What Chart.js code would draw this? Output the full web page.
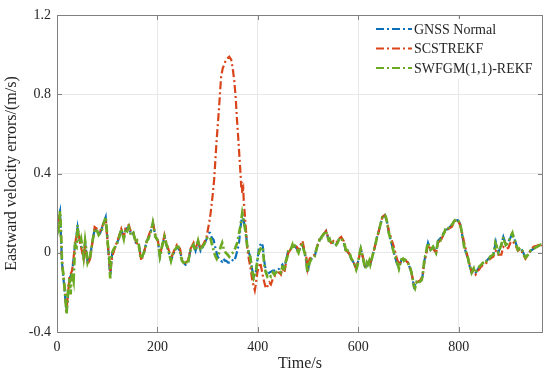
<!DOCTYPE html>
<html>
<head>
<meta charset="utf-8">
<script src="https://cdn.jsdelivr.net/npm/chart.js@4.4.0/dist/chart.umd.min.js"></script>
<style>
html,body{margin:0;padding:0;background:#fff;}
#wrap{width:550px;height:377px;position:relative;}
</style>
</head>
<body>
<div id="wrap"><canvas id="c" width="550" height="377"></canvas></div>
<script>
// ---- data (time in s, eastward velocity error in m/s) ----
const seriesNames = ['GNSS Normal', 'SCSTREKF', 'SWFGM(1,1)-REKF'];
const xTicks = [0, 200, 400, 600, 800];
const yTicks = [-0.4, 0, 0.4, 0.8, 1.2];

const gnssNormal = [
[0,0.15],[6,0.21],[10,-0.05],[19,-0.30],[25,-0.13],[30,-0.10],[36,0.04],[41,0.13],[46,0.05],[53,-0.02],
[56,0.05],[61,-0.05],[66,-0.02],[70,0.05],[75,0.12],[80,0.11],[86,0.10],[93,0.15],[97,0.18],[101,0.05],
[106,-0.12],[110,0.0],[116,0.03],[123,0.07],[128,0.12],[133,0.07],[137,0.12],[143,0.13],[148,0.09],[152,0.10],
[157,0.05],[163,0.04],[168,-0.03],[173,0.0],[179,0.06],[186,0.10],[191,0.15],[196,0.08],[201,0.06],[205,-0.02],
[209,0.03],[214,0.08],[218,0.04],[223,0.0],[227,-0.04],[233,0.0],[239,0.03],[245,0.01],[249,-0.04],[256,-0.06],
[261,-0.05],[266,0.015],[272,0.04],[276,0.01],[281,0.06],[286,0.01],[293,0.04],[298,0.07],[301,0.09],[303,0.10],
[305,0.10],[308,0.08],[310,0.07],[312,0.065],[315,0.03],[318,0.0],[320,-0.02],[323,-0.03],[326,-0.04],[329,-0.045],
[332,-0.03],[334,-0.04],[336,-0.04],[339,-0.045],[341,-0.05],[343,-0.05],[346,-0.05],[349,-0.04],[352,-0.03],[354,-0.035],
[356,-0.02],[358,0.0],[361,0.03],[363,0.06],[365,0.12],[369,0.19],[372,0.16],[374,0.13],[377,0.08],[379,0.03],
[382,0.0],[385,-0.02],[389,-0.09],[392,-0.12],[394,-0.11],[396,-0.10],[399,-0.04],[402,0.02],[405,0.04],[408,0.05],
[410,0.03],[412,-0.03],[416,-0.09],[419,-0.11],[423,-0.10],[430,-0.09],[436,-0.09],[443,-0.08],[449,-0.06],[453,-0.08],
[456,-0.04],[461,0.015],[466,0.02],[471,0.02],[476,0.03],[481,0.0],[485,0.03],[489,0.04],[493,0.0],[496,-0.03],
[499,-0.10],[503,-0.05],[507,-0.03],[513,-0.02],[518,0.03],[523,0.065],[527,0.08],[533,0.10],[536,0.11],[541,0.065],
[546,0.045],[551,0.055],[556,0.04],[561,0.065],[566,0.075],[571,0.055],[576,0.0],[581,0.0],[586,-0.03],[591,-0.05],
[596,-0.085],[601,-0.03],[605,0.02],[609,-0.02],[614,-0.08],[619,-0.06],[624,-0.06],[628,-0.02],[633,0.03],[637,0.075],
[643,0.13],[648,0.18],[653,0.19],[657,0.16],[661,0.10],[666,0.05],[671,0.0],[676,-0.045],[681,-0.08],[686,-0.035],
[693,-0.035],[699,-0.05],[706,-0.10],[711,-0.17],[716,-0.15],[723,-0.145],[728,-0.12],[731,-0.05],[735,0.0],[739,0.05],
[744,0.015],[749,0.03],[755,0.0],[759,0.06],[766,0.08],[773,0.115],[779,0.12],[786,0.14],[793,0.165],[798,0.165],
[803,0.145],[807,0.09],[811,0.03],[816,-0.01],[821,-0.06],[826,-0.10],[830,-0.08],[834,-0.10],[839,-0.08],[845,-0.06],
[849,-0.05],[856,-0.04],[863,-0.02],[869,-0.01],[874,0.055],[879,0.0],[885,0.04],[889,0.08],[894,0.04],[899,0.055],
[903,0.075],[907,0.10],[913,0.055],[918,0.015],[923,0.025],[927,0.01],[933,-0.025],[938,-0.01],[943,0.01],[949,0.02],
[956,0.03],[963,0.04],[966,0.03]
];

const scstrekf = [
[0,0.15],[6,0.20],[10,-0.04],[19,-0.29],[25,-0.12],[30,-0.09],[36,0.04],[41,0.12],[46,0.05],[53,-0.03],
[56,0.04],[61,-0.06],[66,-0.03],[70,0.04],[75,0.13],[80,0.12],[86,0.11],[93,0.15],[97,0.17],[101,0.05],
[106,-0.10],[110,-0.02],[116,0.03],[123,0.08],[128,0.12],[133,0.08],[137,0.13],[143,0.14],[148,0.10],[152,0.10],
[157,0.06],[163,0.03],[168,-0.04],[173,0.0],[179,0.06],[186,0.11],[191,0.15],[196,0.09],[201,0.06],[205,-0.01],
[209,0.03],[214,0.09],[218,0.05],[223,0.01],[227,-0.03],[233,0.01],[239,0.04],[245,0.02],[249,-0.03],[256,-0.05],
[261,-0.04],[266,0.02],[272,0.05],[276,0.02],[281,0.06],[286,0.02],[293,0.05],[298,0.08],[300,0.11],[303,0.15],
[306,0.20],[310,0.29],[313,0.37],[316,0.49],[318,0.57],[321,0.67],[323,0.74],[325,0.82],[327,0.89],[330,0.93],
[333,0.95],[336,0.97],[339,0.98],[343,0.99],[347,0.975],[350,0.93],[353,0.87],[356,0.78],[358,0.69],[361,0.58],
[363,0.50],[366,0.38],[367,0.33],[368,0.36],[369,0.30],[371,0.32],[372,0.26],[373,0.23],[376,0.13],[379,0.02],
[382,-0.03],[385,-0.07],[389,-0.14],[392,-0.17],[394,-0.19],[396,-0.16],[399,-0.10],[402,-0.07],[405,-0.05],[408,-0.09],
[411,-0.13],[414,-0.16],[416,-0.18],[419,-0.17],[423,-0.15],[426,-0.16],[430,-0.13],[433,-0.12],[436,-0.11],[440,-0.10],
[443,-0.10],[446,-0.11],[449,-0.08],[453,-0.10],[456,-0.05],[461,0.0],[466,0.02],[471,0.03],[476,0.04],[481,0.01],
[485,0.04],[489,0.06],[493,0.01],[496,-0.01],[499,-0.08],[503,-0.03],[507,-0.02],[513,-0.01],[518,0.03],[523,0.07],
[527,0.08],[533,0.10],[536,0.11],[541,0.07],[546,0.05],[551,0.06],[556,0.05],[561,0.07],[566,0.08],[571,0.06],
[576,0.01],[581,0.0],[586,-0.03],[591,-0.05],[596,-0.08],[601,-0.03],[605,0.02],[609,-0.02],[614,-0.07],[619,-0.06],
[624,-0.05],[628,-0.02],[633,0.03],[637,0.07],[643,0.13],[648,0.18],[653,0.19],[657,0.16],[661,0.11],[666,0.07],
[671,0.03],[676,-0.02],[681,-0.06],[686,-0.04],[693,-0.035],[699,-0.05],[706,-0.10],[711,-0.16],[716,-0.15],[723,-0.14],
[728,-0.12],[731,-0.06],[735,-0.01],[739,0.04],[744,0.02],[749,0.02],[755,0.0],[759,0.05],[766,0.07],[773,0.11],
[779,0.12],[786,0.13],[793,0.16],[798,0.165],[803,0.14],[807,0.10],[811,0.05],[816,0.0],[821,-0.05],[826,-0.10],
[830,-0.09],[834,-0.11],[839,-0.09],[845,-0.07],[849,-0.06],[856,-0.05],[863,-0.03],[869,-0.02],[874,0.01],[879,-0.01],
[885,-0.01],[889,0.03],[894,0.02],[899,0.025],[903,0.05],[907,0.06],[913,0.04],[918,0.01],[923,0.02],[927,0.0],
[933,-0.03],[938,-0.01],[943,0.01],[949,0.03],[956,0.035],[963,0.045],[966,0.035]
];

const swfgmRekf = [
[0,0.15],[3,0.12],[6,0.21],[8,0.10],[10,-0.05],[13,-0.12],[16,-0.20],[19,-0.31],[22,-0.19],[25,-0.13],
[27,-0.21],[30,-0.10],[33,-0.14],[36,0.04],[39,0.03],[41,0.14],[43,0.06],[46,0.05],[48,0.07],[51,0.02],
[53,-0.02],[56,0.06],[59,0.0],[61,-0.05],[64,-0.03],[66,-0.02],[70,0.05],[73,0.09],[75,0.12],[78,0.11],
[80,0.11],[83,0.09],[86,0.10],[90,0.12],[93,0.15],[97,0.18],[99,0.12],[101,0.05],[104,-0.02],[106,-0.13],
[108,-0.02],[110,0.0],[113,0.02],[116,0.03],[120,0.05],[123,0.07],[126,0.10],[128,0.12],[131,0.09],[133,0.07],
[135,0.10],[137,0.12],[140,0.11],[143,0.13],[146,0.10],[148,0.09],[152,0.10],[155,0.07],[157,0.05],[160,0.06],
[163,0.04],[166,-0.02],[168,-0.03],[171,-0.01],[173,0.0],[176,0.03],[179,0.06],[182,0.07],[186,0.10],[189,0.12],
[191,0.15],[194,0.11],[196,0.08],[199,0.07],[201,0.06],[203,0.02],[205,-0.02],[207,0.0],[209,0.03],[212,0.06],
[214,0.08],[216,0.06],[218,0.04],[221,0.02],[223,0.0],[225,-0.02],[227,-0.04],[230,-0.01],[233,0.0],[236,0.02],
[239,0.03],[242,0.03],[245,0.01],[247,-0.02],[249,-0.04],[252,-0.05],[256,-0.06],[259,-0.04],[261,-0.05],[264,-0.01],
[266,0.015],[269,0.03],[272,0.04],[274,0.02],[276,0.01],[279,0.04],[281,0.06],[284,0.03],[286,0.01],[289,0.03],
[293,0.04],[296,0.06],[298,0.07],[300,0.08],[303,0.08],[306,0.07],[309,0.04],[313,0.0],[316,-0.02],[318,-0.03],
[321,-0.01],[323,0.0],[326,0.03],[329,0.05],[332,0.02],[336,0.0],[340,-0.01],[343,-0.02],[346,-0.01],[350,0.0],
[353,0.01],[356,0.03],[359,0.05],[362,0.09],[365,0.13],[369,0.20],[372,0.16],[374,0.13],[377,0.08],[379,0.03],
[382,0.0],[385,-0.02],[387,-0.06],[389,-0.10],[392,-0.13],[394,-0.12],[396,-0.10],[399,-0.04],[402,0.0],[405,0.02],
[408,0.03],[410,0.02],[412,-0.04],[414,-0.08],[416,-0.10],[419,-0.12],[423,-0.11],[426,-0.12],[430,-0.10],[433,-0.11],
[436,-0.10],[440,-0.09],[443,-0.09],[446,-0.10],[449,-0.07],[451,-0.07],[453,-0.09],[456,-0.04],[459,-0.02],[461,0.015],
[463,0.02],[466,0.02],[469,0.04],[471,0.02],[474,0.035],[476,0.03],[479,0.01],[481,0.0],[483,0.02],[485,0.03],
[487,0.035],[489,0.04],[491,0.02],[493,0.0],[496,-0.03],[498,-0.08],[499,-0.10],[501,-0.07],[503,-0.05],[505,-0.04],
[507,-0.03],[510,-0.025],[513,-0.02],[516,0.01],[518,0.03],[521,0.05],[523,0.065],[525,0.06],[527,0.08],[530,0.09],
[533,0.10],[536,0.11],[538,0.09],[541,0.065],[543,0.07],[546,0.045],[549,0.05],[551,0.055],[553,0.045],[556,0.04],
[559,0.05],[561,0.065],[564,0.07],[566,0.075],[569,0.06],[571,0.055],[574,0.03],[576,0.0],[579,0.01],[581,0.0],
[584,-0.01],[586,-0.03],[589,-0.04],[591,-0.05],[594,-0.07],[596,-0.085],[599,-0.06],[601,-0.03],[603,0.0],[605,0.02],
[607,0.0],[609,-0.02],[612,-0.06],[614,-0.08],[617,-0.05],[619,-0.06],[622,-0.04],[624,-0.06],[626,-0.04],[628,-0.02],
[631,0.01],[633,0.03],[635,0.05],[637,0.075],[640,0.10],[643,0.13],[646,0.16],[648,0.18],[651,0.19],[653,0.19],
[655,0.18],[657,0.16],[659,0.13],[661,0.10],[664,0.07],[666,0.05],[669,0.02],[671,0.0],[674,-0.02],[676,-0.045],
[679,-0.06],[681,-0.08],[683,-0.06],[686,-0.035],[689,-0.03],[691,-0.04],[693,-0.035],[696,-0.04],[699,-0.05],[702,-0.07],
[704,-0.08],[706,-0.10],[709,-0.14],[711,-0.17],[713,-0.18],[716,-0.15],[719,-0.16],[721,-0.15],[723,-0.145],[726,-0.14],
[728,-0.12],[730,-0.08],[731,-0.05],[733,-0.02],[735,0.0],[737,0.03],[739,0.05],[741,0.03],[744,0.015],[746,0.02],
[749,0.03],[751,0.02],[753,0.01],[755,0.0],[757,0.03],[759,0.06],[762,0.07],[764,0.065],[766,0.08],[769,0.09],
[771,0.10],[773,0.115],[776,0.11],[779,0.12],[781,0.13],[784,0.13],[786,0.14],[789,0.15],[791,0.16],[793,0.165],
[796,0.17],[798,0.165],[801,0.155],[803,0.145],[805,0.12],[807,0.09],[809,0.06],[811,0.03],[814,0.01],[816,-0.01],
[819,-0.03],[821,-0.06],[824,-0.08],[826,-0.10],[828,-0.09],[830,-0.08],[832,-0.10],[834,-0.10],[836,-0.09],[839,-0.08],
[841,-0.07],[843,-0.065],[845,-0.06],[847,-0.055],[849,-0.05],[852,-0.045],[854,-0.05],[856,-0.04],[859,-0.03],[861,-0.03],
[863,-0.02],[866,-0.015],[869,-0.01],[871,0.01],[873,0.05],[875,0.04],[877,0.01],[879,0.0],[882,0.02],[885,0.04],
[887,0.06],[889,0.08],[891,0.06],[894,0.04],[897,0.045],[899,0.055],[901,0.065],[903,0.075],[905,0.09],[907,0.10],
[909,0.08],[911,0.065],[913,0.055],[916,0.03],[918,0.015],[920,0.02],[923,0.025],[925,0.015],[927,0.01],[930,-0.01],
[933,-0.025],[935,-0.02],[938,-0.01],[940,0.0],[943,0.01],[946,0.015],[949,0.02],[952,0.025],[956,0.03],[959,0.035],
[963,0.04],[966,0.03]
];

// ---- styling ----
const COLORS = ['#0B6FBA', '#D9441A', '#6DAA23'];
const WIDTHS = [2.2, 2.2, 2.7];
const DASH = [8, 3, 2, 3];
const SERIF = "'Liberation Serif', 'Times New Roman', serif";
const TXT = '#262626';

const toXY = arr => arr.map(p => ({x: p[0], y: p[1]}));

const frameAndLegend = {
  id: 'frameAndLegend',
  afterDatasetsDraw(chart) {
    const {ctx, chartArea: a, scales} = chart;
    const xs = scales.x, ys = scales.y;
    ctx.save();
    // frame
    ctx.strokeStyle = '#808080';
    ctx.lineWidth = 1;
    ctx.setLineDash([]);
    ctx.strokeRect(Math.round(a.left) + 0.5, Math.round(a.top) + 0.5,
                   Math.round(a.right - a.left) - 1, Math.round(a.bottom - a.top));
    // inner ticks
    const tl = 5;
    ctx.beginPath();
    xTicks.forEach(v => {
      const px = Math.round(xs.getPixelForValue(v)) + 0.5;
      ctx.moveTo(px, a.bottom); ctx.lineTo(px, a.bottom - tl);
      ctx.moveTo(px, a.top); ctx.lineTo(px, a.top + tl);
    });
    yTicks.forEach(v => {
      const py = Math.round(ys.getPixelForValue(v)) + 0.5;
      ctx.moveTo(a.left, py); ctx.lineTo(a.left + tl, py);
      ctx.moveTo(a.right, py); ctx.lineTo(a.right - tl, py);
    });
    ctx.stroke();

    // legend (inside, top right)
    const lx = 372, ly = 19, lw = 168, lh = 60;
    ctx.fillStyle = '#ffffff';
    ctx.fillRect(lx, ly, lw, lh);
    const rows = [29, 48.5, 68];
    ctx.font = "14px " + SERIF;
    ctx.textBaseline = 'middle';
    ctx.textAlign = 'left';
    seriesNames.forEach((name, i) => {
      ctx.strokeStyle = COLORS[i];
      ctx.lineWidth = 2;
      ctx.setLineDash(DASH);
      ctx.beginPath();
      ctx.moveTo(376, rows[i]);
      ctx.lineTo(412, rows[i]);
      ctx.stroke();
      ctx.setLineDash([]);
      ctx.fillStyle = TXT;
      ctx.fillText(name, 414, rows[i] + 1);
    });
    ctx.restore();
  }
};

const datasets = [gnssNormal, scstrekf, swfgmRekf].map((arr, i) => ({
  label: seriesNames[i],
  data: toXY(arr),
  borderColor: COLORS[i],
  backgroundColor: COLORS[i],
  borderWidth: WIDTHS[i],
  borderDash: DASH,
  pointRadius: 0,
  tension: 0,
  fill: false,
  order: 3 - i
}));

new Chart(document.getElementById('c'), {
  type: 'line',
  data: { datasets },
  plugins: [frameAndLegend],
  options: {
    responsive: false,
    animation: false,
    events: [],
    layout: { padding: { left: 0, top: 15, right: 7, bottom: 0 } },
    plugins: { legend: { display: false }, tooltip: { enabled: false } },
    scales: {
      x: {
        type: 'linear',
        min: 0, max: 968,
        afterBuildTicks: s => { s.ticks = xTicks.map(v => ({value: v})); },
        afterFit: s => { s.height = 45; },
        grid: { color: '#e8e8e8', drawTicks: false },
        border: { display: false },
        ticks: { font: { family: SERIF, size: 14 }, color: TXT, padding: 7, maxRotation: 0 },
        title: { display: true, text: 'Time/s', font: { family: SERIF, size: 16 }, color: TXT,
                 padding: { top: 0, bottom: 4 } }
      },
      y: {
        type: 'linear',
        min: -0.4, max: 1.2,
        afterBuildTicks: s => { s.ticks = yTicks.map(v => ({value: v})); },
        afterFit: s => { s.width = 57; },
        grid: { color: '#e8e8e8', drawTicks: false },
        border: { display: false },
        ticks: { font: { family: SERIF, size: 14 }, color: TXT, padding: 6,
                 callback: v => String(Math.round(v * 10) / 10) },
        title: { display: true, text: 'Eastward velocity errors/(m/s)', font: { family: SERIF, size: 16 },
                 color: TXT, padding: { top: 2, bottom: 0 } }
      }
    }
  }
});
</script>
</body>
</html>
